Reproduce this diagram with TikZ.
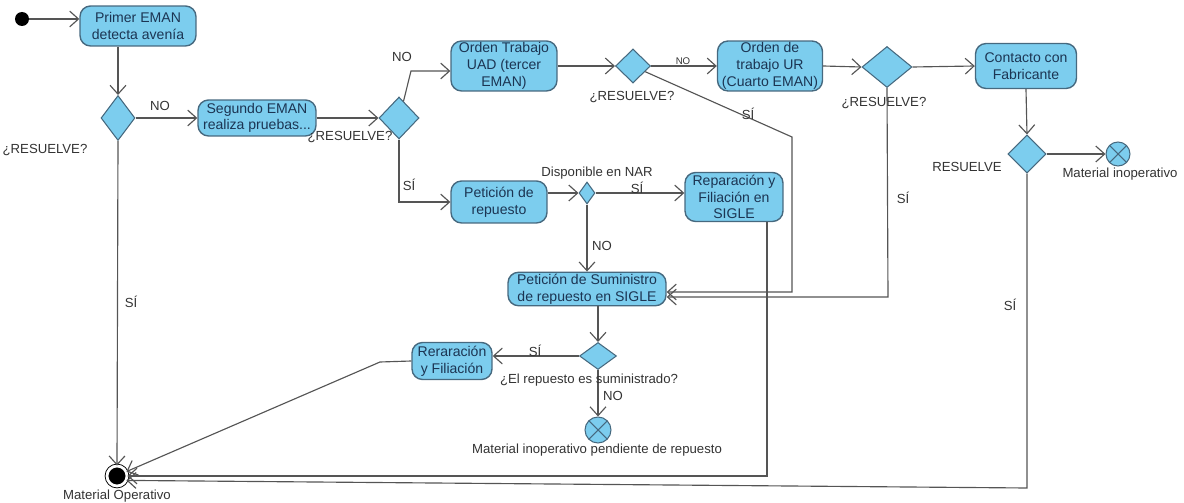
\documentclass[tikz,border=0pt]{standalone}
\usepackage{fontspec}
\setmainfont{Liberation Sans}
\usetikzlibrary{shapes.geometric,arrows.meta}
\definecolor{actfill}{HTML}{7CCDEE}
\definecolor{actdraw}{HTML}{46697F}
\definecolor{acttext}{HTML}{1C3553}
\definecolor{linec}{HTML}{555555}
\tikzset{
  act/.style={rectangle,rounded corners=6pt,draw=actdraw,fill=actfill,line width=0.8pt,
    text=acttext,font=\fontsize{8}{9.5}\selectfont,align=center,inner sep=1pt},
  dec/.style={diamond,draw=actdraw,fill=actfill,line width=0.6pt,inner sep=0pt},
  flow/.style={draw=linec,line width=0.65pt,-{Straight Barb[length=5pt,width=9pt]}},
  lbl/.style={text=black!80,font=\fontsize{7.5}{9}\selectfont,inner sep=0pt},
  stopflow/.style={circle,draw=actdraw,fill=actfill,line width=0.6pt,inner sep=0pt,
    path picture={\draw[actdraw,line width=0.6pt]
      (path picture bounding box.south west) -- (path picture bounding box.north east)
      (path picture bounding box.north west) -- (path picture bounding box.south east);}}
}
\begin{document}
\begin{tikzpicture}[x=0.02cm,y=-0.02cm]
  \useasboundingbox (0,0) rectangle (1184,503);

  \node[circle,fill=black,inner sep=0pt,minimum size=0.28cm] (start) at (22,19) {};
  \node[circle,fill=black,draw=black,double=white,double distance=1.6pt,
        line width=0.5pt,inner sep=0pt,minimum size=0.4cm] (fin) at (117,476) {};

  \node[act,minimum width=2.32cm,minimum height=0.8cm] (emanuno) at (138,26) {Primer EMAN\\detecta avenía};
  \node[act,minimum width=2.36cm,minimum height=0.72cm] (emandos) at (257,118) {Segundo EMAN\\realiza pruebas...};
  \node[act,minimum width=2.12cm,minimum height=0.94cm] (uad) at (504,66) {Orden Trabajo\\UAD (tercer\\EMAN)};
  \node[act,minimum width=2.1cm,minimum height=0.94cm] (ur) at (770,66) {Orden de\\trabajo UR\\(Cuarto EMAN)};
  \node[act,minimum width=2.02cm,minimum height=0.9cm] (fabr) at (1026,66) {Contacto con\\Fabricante};
  \node[act,minimum width=1.92cm,minimum height=0.84cm] (pet) at (499,202) {Petición de\\repuesto};
  \node[act,minimum width=1.96cm,minimum height=0.98cm] (repsig) at (734,197) {Reparación y\\Filiación en\\SIGLE};
  \node[act,minimum width=3.16cm,minimum height=0.6cm] (sumin) at (587,289) {Petición de Suministro\\de repuesto en SIGLE};
  \node[act,minimum width=1.6cm,minimum height=0.74cm] (reraf) at (452,361) {Reraración\\y Filiación};

  \node[dec,minimum width=0.68cm,minimum height=0.9cm] (d1) at (118,118) {};
  \node[dec,minimum width=0.8cm,minimum height=0.84cm] (d2) at (399,118) {};
  \node[dec,minimum width=0.7cm,minimum height=0.68cm] (d3) at (633,66) {};
  \node[dec,minimum width=1.0cm,minimum height=0.82cm] (d4) at (887,67) {};
  \node[dec,minimum width=0.76cm,minimum height=0.76cm] (d5) at (1027,154) {};
  \node[dec,minimum width=0.32cm,minimum height=0.44cm] (d6) at (587,193) {};
  \node[dec,minimum width=0.74cm,minimum height=0.54cm] (d7) at (598,356) {};

  \node[stopflow,minimum size=0.48cm] (inop) at (1118,154) {};
  \node[stopflow,minimum size=0.52cm] (inoppend) at (598,430) {};

  \coordinate (c1) at (411,71);
  \coordinate (c2) at (792,137);
  \coordinate (c3) at (792,292);
  \coordinate (c4) at (888,297);
  \coordinate (c5) at (1027,488);
  \coordinate (c6) at (767,476);
  \coordinate (c7) at (380,362);

  \draw[flow] (start) -- (start -| emanuno.west);
  \draw[flow] (emanuno.south -| d1) -- (d1.north);
  \draw[flow] (d1.east) -- (emandos.west);
  \draw[flow] (d1.south) -- (fin.north);
  \draw[flow] (emandos.east) -- (d2.west);
  \draw[flow] (d2.75) -- (c1) -- (c1 -| uad.west);
  \draw[flow] (d2.south) -- (d2.south |- pet.west) -- (pet.west);
  \draw[flow] (uad.east) -- (d3.west);
  \draw[flow] (d3.east) -- (ur.west);
  \draw[flow] (d3.-25) -- (c2) -- (c3) -- (c3 -| sumin.east);
  \draw[flow] (ur.east) -- (d4.west);
  \draw[flow] (d4.east) -- (fabr.west);
  \draw[flow] (d4.south) -- (c4) -- (c4 -| sumin.east);
  \draw[flow] (fabr.south) -- (d5.north);
  \draw[flow] (d5.east) -- (inop.west);
  \draw[flow] (d5.south) -- (c5) -- (fin.-25);
  \draw[flow] (pet.east |- d6) -- (d6.west);
  \draw[flow] (d6.east) -- (d6 -| repsig.west);
  \draw[flow] (d6.south) -- (sumin.north);
  \draw[flow] (repsig.south -| c6) -- (c6) -- (fin.east);
  \draw[flow] (sumin.south -| d7) -- (d7.north);
  \draw[flow] (d7.west) -- (d7.west -| reraf.east);
  \draw[flow] (d7.south) -- (inoppend.north);
  \draw[flow] (reraf.west) -- (c7) -- (fin.25);

  \node[lbl] (l1) at (45,150) {¿RESUELVE?};
  \node[lbl] (l2) at (160,106) {NO};
  \node[lbl] (l3) at (131,302) {SÍ};
  \node[lbl] (l4) at (350,137) {¿RESUELVE?};
  \node[lbl] (l5) at (402,57) {NO};
  \node[lbl] (l6) at (409,185) {SÍ};
  \node[lbl] (l7) at (632,97) {¿RESUELVE?};
  \node[lbl,font=\fontsize{5.5}{6}\selectfont] (l8) at (683,61) {NO};
  \node[lbl] (l9) at (748,114) {SÍ};
  \node[lbl] (l10) at (884,103) {¿RESUELVE?};
  \node[lbl] (l11) at (903,198) {SÍ};
  \node[lbl] (l12) at (967,167) {RESUELVE};
  \node[lbl] (l13) at (1120,174) {Material inoperativo};
  \node[lbl] (l14) at (1010,305) {SÍ};
  \node[lbl] (l15) at (597,173) {Disponible en NAR};
  \node[lbl] (l16) at (637,188) {SÍ};
  \node[lbl] (l17) at (602,246) {NO};
  \node[lbl] (l18) at (535,351) {SÍ};
  \node[lbl] (l19) at (589,380) {¿El repuesto es suministrado?};
  \node[lbl] (l20) at (613,396) {NO};
  \node[lbl] (l21) at (597,450) {Material inoperativo pendiente de repuesto};
  \node[lbl] (l22) at (117,496) {Material Operativo};
\end{tikzpicture}
\end{document}
